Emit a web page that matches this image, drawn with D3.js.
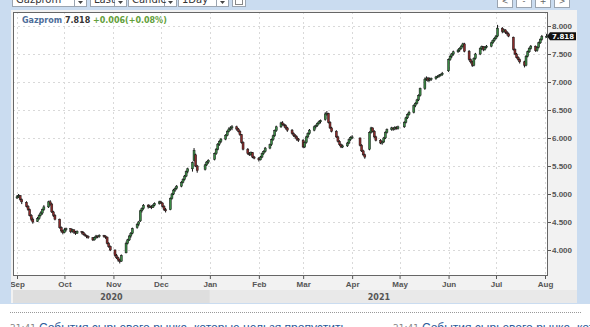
<!DOCTYPE html>
<html>
<head>
<meta charset="utf-8">
<style>
  body { margin: 0; background: #fff; overflow: hidden; }
  svg { display: block; font-family: "DejaVu Sans", sans-serif; }
  .grid line { stroke: #d9d9d9; stroke-dasharray: 2,3; }
  .axis text { fill: #555; font-size: 8px; font-weight: bold; }
  .axis line { stroke: #555; }
  .axis path { display: none; }
</style>
</head>
<body>
<svg id="chart" width="590" height="327"></svg>
<script src="https://d3js.org/d3.v7.min.js"></script>
<script>
const symbol = "Gazprom"
const menus = ["Gazprom", "Last", "Candle", "1Day"]
const navButtons = ["<", "-", "+", ">"]
const yTicks = [4.0, 4.5, 5.0, 5.5, 6.0, 6.5, 7.0, 7.5, 8.0]
const years = ["2020", "2021"]
const newsTime = "21:41"
const headline = "События сырьевого рынка, которые нельзя пропустить"

// date (yymmdd), open, high, low, close
const candles = [
  ["200901",4.93,4.98,4.91,4.95],["200902",4.95,5.00,4.93,4.97],["200903",4.97,4.98,4.88,4.90],["200904",4.90,4.92,4.82,4.86],
  ["200907",4.85,4.87,4.76,4.78],["200908",4.78,4.80,4.70,4.72],["200909",4.72,4.74,4.60,4.62],["200910",4.62,4.64,4.52,4.55],["200911",4.55,4.58,4.47,4.50],
  ["200914",4.51,4.59,4.50,4.56],["200915",4.56,4.64,4.54,4.62],["200916",4.62,4.69,4.60,4.66],["200917",4.66,4.74,4.63,4.72],["200918",4.72,4.80,4.70,4.77],
  ["200921",4.77,4.88,4.75,4.86],["200922",4.86,4.89,4.79,4.82],["200923",4.82,4.84,4.66,4.68],["200924",4.68,4.70,4.59,4.62],["200925",4.62,4.64,4.53,4.55],
  ["200928",4.55,4.56,4.38,4.40],["200929",4.40,4.42,4.31,4.34],["200930",4.34,4.36,4.28,4.31],["201001",4.31,4.39,4.30,4.36],["201002",4.36,4.40,4.33,4.38],
  ["201005",4.38,4.39,4.30,4.33],["201006",4.33,4.38,4.31,4.36],["201007",4.36,4.37,4.29,4.32],["201008",4.32,4.34,4.27,4.30],["201009",4.30,4.35,4.29,4.33],
  ["201012",4.33,4.34,4.28,4.31],["201013",4.31,4.33,4.26,4.28],["201014",4.28,4.30,4.24,4.26],["201015",4.26,4.27,4.21,4.24],["201016",4.24,4.26,4.20,4.22],
  ["201019",4.22,4.23,4.16,4.18],["201020",4.18,4.24,4.17,4.22],["201021",4.22,4.27,4.20,4.25],["201022",4.25,4.26,4.21,4.24],["201023",4.24,4.28,4.22,4.26],
  ["201026",4.26,4.27,4.22,4.25],["201027",4.25,4.26,4.20,4.23],["201028",4.23,4.24,4.10,4.12],["201029",4.12,4.14,4.04,4.06],["201030",4.06,4.08,3.98,4.00],
  ["201102",4.00,4.01,3.88,3.90],["201103",3.90,3.93,3.84,3.86],["201104",3.86,3.88,3.79,3.82],["201105",3.82,3.84,3.76,3.80],["201106",3.80,3.92,3.79,3.90],
  ["201109",3.95,4.15,3.94,4.12],["201110",4.12,4.20,4.10,4.18],["201111",4.18,4.27,4.16,4.25],["201112",4.25,4.32,4.22,4.30],["201113",4.30,4.40,4.28,4.38],
  ["201116",4.40,4.48,4.38,4.46],["201117",4.46,4.52,4.43,4.50],["201118",4.52,4.72,4.50,4.70],["201119",4.70,4.76,4.67,4.74],["201120",4.74,4.82,4.72,4.80],
  ["201123",4.80,4.82,4.74,4.77],["201124",4.77,4.81,4.75,4.78],["201125",4.78,4.80,4.73,4.76],["201126",4.76,4.82,4.75,4.80],["201127",4.80,4.85,4.78,4.83],
  ["201130",4.83,4.88,4.81,4.86],["201201",4.86,4.88,4.82,4.84],["201202",4.84,4.85,4.76,4.78],["201203",4.78,4.80,4.70,4.72],["201204",4.72,4.75,4.67,4.70],
  ["201207",4.72,4.94,4.71,4.92],["201208",4.92,5.02,4.90,5.00],["201209",5.00,5.09,4.98,5.07],["201210",5.07,5.12,5.04,5.10],["201211",5.10,5.16,5.08,5.14],
  ["201214",5.14,5.23,5.12,5.21],["201215",5.21,5.28,5.19,5.26],["201216",5.26,5.34,5.24,5.32],["201217",5.32,5.42,5.30,5.40],["201218",5.40,5.47,5.37,5.45],
  ["201221",5.45,5.58,5.40,5.56],["201222",5.60,5.82,5.58,5.78],["201223",5.70,5.72,5.48,5.50],["201224",5.50,5.52,5.38,5.42],
  ["201229",5.44,5.54,5.42,5.52],["201230",5.52,5.59,5.50,5.57],["201231",5.57,5.62,5.54,5.60],
  ["210104",5.62,5.74,5.60,5.72],["210105",5.72,5.82,5.70,5.80],["210106",5.80,5.91,5.78,5.89],["210107",5.89,5.96,5.86,5.94],["210108",5.94,6.00,5.91,5.98],
  ["210111",5.98,6.07,5.96,6.05],["210112",6.05,6.14,6.03,6.12],["210113",6.12,6.19,6.10,6.16],["210114",6.16,6.21,6.13,6.18],["210115",6.18,6.23,6.14,6.20],
  ["210118",6.20,6.22,6.13,6.16],["210119",6.16,6.18,6.10,6.12],["210120",6.12,6.14,6.04,6.06],["210121",6.06,6.07,5.90,5.92],["210122",5.92,5.94,5.78,5.80],
  ["210125",5.80,5.82,5.70,5.72],["210126",5.72,5.75,5.68,5.70],["210127",5.70,5.76,5.68,5.74],["210128",5.74,5.75,5.64,5.66],["210129",5.66,5.68,5.62,5.64],
  ["210201",5.64,5.66,5.58,5.61],["210202",5.61,5.68,5.60,5.66],["210203",5.66,5.74,5.64,5.72],["210204",5.72,5.78,5.70,5.76],["210205",5.76,5.84,5.74,5.82],
  ["210208",5.82,5.90,5.80,5.88],["210209",5.88,5.99,5.86,5.97],["210210",5.97,6.06,5.95,6.04],["210211",6.04,6.15,6.02,6.13],["210212",6.13,6.22,6.11,6.20],
  ["210215",6.20,6.29,6.18,6.27],["210216",6.27,6.30,6.22,6.24],["210217",6.24,6.26,6.19,6.22],["210218",6.22,6.24,6.15,6.18],["210219",6.18,6.20,6.11,6.14],
  ["210222",6.14,6.16,6.06,6.08],["210223",6.08,6.10,6.02,6.05],["210224",6.05,6.07,5.99,6.02],["210225",6.02,6.04,5.95,5.98],["210226",5.98,6.00,5.93,5.96],
  ["210301",5.96,5.98,5.82,5.84],["210302",5.84,5.94,5.82,5.92],["210303",5.92,6.04,5.90,6.02],["210304",6.02,6.10,6.00,6.08],["210305",6.08,6.16,6.06,6.14],
  ["210308",6.14,6.22,6.12,6.20],["210309",6.20,6.24,6.17,6.22],["210310",6.22,6.28,6.20,6.26],["210311",6.26,6.31,6.24,6.29],["210312",6.29,6.33,6.26,6.31],
  ["210315",6.33,6.46,6.31,6.43],["210316",6.43,6.48,6.40,6.44],["210317",6.44,6.45,6.26,6.28],["210318",6.28,6.30,6.16,6.18],["210319",6.18,6.20,6.10,6.12],
  ["210322",6.12,6.14,6.00,6.02],["210323",6.02,6.04,5.92,5.94],["210324",5.94,5.96,5.86,5.88],["210325",5.88,5.90,5.82,5.84],["210326",5.84,5.88,5.82,5.86],
  ["210329",5.86,5.93,5.84,5.91],["210330",5.91,5.99,5.89,5.97],["210331",5.97,6.03,5.95,6.01],["210401",6.01,6.05,5.98,6.02],
  ["210406",6.00,6.01,5.85,5.87],["210407",5.87,5.89,5.75,5.77],["210408",5.77,5.79,5.68,5.70],["210409",5.70,5.72,5.63,5.66],
  ["210412",5.80,6.12,5.78,6.10],["210413",6.10,6.20,6.08,6.18],["210414",6.18,6.19,6.10,6.12],["210415",6.12,6.14,6.00,6.02],["210416",6.02,6.04,5.94,5.96],
  ["210419",5.96,5.98,5.89,5.91],["210420",5.91,5.95,5.88,5.93],["210421",5.93,6.02,5.91,6.00],["210422",6.00,6.12,5.98,6.10],["210423",6.10,6.17,6.08,6.15],
  ["210426",6.15,6.20,6.13,6.18],["210427",6.18,6.19,6.13,6.16],["210428",6.16,6.21,6.14,6.19],["210429",6.19,6.21,6.15,6.17],["210430",6.17,6.22,6.15,6.20],
  ["210504",6.20,6.30,6.18,6.28],["210505",6.28,6.38,6.26,6.36],["210506",6.36,6.44,6.34,6.42],["210507",6.42,6.48,6.40,6.46],
  ["210510",6.46,6.60,6.44,6.58],["210511",6.58,6.64,6.55,6.62],["210512",6.62,6.70,6.60,6.68],["210513",6.68,6.78,6.66,6.76],["210514",6.76,6.90,6.74,6.88],
  ["210517",6.88,7.08,6.86,7.05],["210518",7.05,7.10,7.02,7.07],["210519",7.07,7.09,7.00,7.03],["210520",7.03,7.08,7.01,7.05],["210521",7.05,7.08,7.02,7.06],
  ["210524",7.06,7.11,7.04,7.09],["210525",7.09,7.12,7.07,7.10],["210526",7.10,7.14,7.08,7.12],["210527",7.12,7.15,7.10,7.13],["210528",7.13,7.18,7.11,7.15],
  ["210601",7.20,7.42,7.18,7.40],["210602",7.40,7.48,7.38,7.46],["210603",7.46,7.52,7.43,7.50],["210604",7.50,7.56,7.47,7.54],
  ["210607",7.54,7.59,7.52,7.57],["210608",7.57,7.62,7.54,7.60],["210609",7.60,7.66,7.58,7.64],["210610",7.64,7.70,7.62,7.68],["210611",7.68,7.70,7.53,7.55],
  ["210614",7.55,7.57,7.38,7.40],["210615",7.40,7.42,7.33,7.36],["210616",7.36,7.38,7.27,7.30],["210617",7.30,7.44,7.28,7.42],["210618",7.42,7.52,7.40,7.50],
  ["210621",7.50,7.62,7.48,7.60],["210622",7.60,7.65,7.57,7.63],["210623",7.63,7.64,7.55,7.58],["210624",7.58,7.64,7.56,7.62],["210625",7.62,7.66,7.60,7.64],
  ["210628",7.64,7.72,7.62,7.70],["210629",7.70,7.76,7.68,7.74],["210630",7.74,7.80,7.72,7.78],["210701",7.78,7.84,7.76,7.82],["210702",7.82,8.02,7.80,7.96],
  ["210705",7.96,7.98,7.87,7.90],["210706",7.90,7.95,7.88,7.93],["210707",7.93,7.94,7.86,7.89],["210708",7.89,7.91,7.83,7.86],["210709",7.86,7.88,7.80,7.82],
  ["210712",7.80,7.81,7.56,7.58],["210713",7.58,7.60,7.48,7.50],["210714",7.50,7.52,7.42,7.44],["210715",7.44,7.46,7.38,7.40],["210716",7.40,7.42,7.33,7.36],
  ["210719",7.36,7.38,7.26,7.30],["210720",7.30,7.48,7.28,7.46],["210721",7.46,7.56,7.44,7.54],["210722",7.54,7.62,7.52,7.60],["210723",7.60,7.66,7.58,7.64],
  ["210726",7.64,7.65,7.54,7.56],["210727",7.56,7.64,7.54,7.62],["210728",7.62,7.72,7.60,7.70],["210729",7.70,7.78,7.68,7.76],["210730",7.76,7.84,7.74,7.812],
  ["210802",7.812,7.86,7.79,7.818]
]

const parse = d3.timeParse("%y%m%d")
const data = candles.map(d => ({ date: parse(d[0]), open: d[1], high: d[2], low: d[3], close: d[4] }))

const W = 590
const plotL = 13, plotR = 548, plotT = 12, plotB = 276
const svg = d3.select("#chart")

// page background pieces
svg.append("rect").attr("width", W).attr("height", 304).attr("fill", "#cadcf0")
svg.append("rect").attr("x", 10).attr("y", 10).attr("width", 567).attr("height", 293).attr("fill", "#f2f2f2")
svg.append("rect").attr("x", plotL).attr("y", plotT).attr("width", plotR - plotL).attr("height", plotB - plotT).attr("fill", "#fff")

// toolbar (cut off at the top edge, as in the screenshot)
const menuBoxes = [[12, 74], [90, 36], [128, 48], [178, 50]]
menus.forEach((m, i) => {
  const [bx, bw] = menuBoxes[i]
  const g = svg.append("g")
  g.append("rect").attr("x", bx + 0.5).attr("y", -3.5).attr("width", bw).attr("height", 10)
    .attr("fill", "#fff").attr("stroke", "#9aa4b0")
  g.append("line").attr("x1", bx + bw - 11.5).attr("x2", bx + bw - 11.5).attr("y1", -3).attr("y2", 6.5).attr("stroke", "#9aa4b0")
  g.append("text").attr("x", bx + 4).attr("y", 3).attr("font-size", 10).attr("fill", "#333").text(m)
  g.append("path").attr("d", `M${bx + bw - 8},1 h5 l-2.5,3 z`).attr("fill", "#444")
})
svg.append("rect").attr("x", 232.5).attr("y", -3.5).attr("width", 13).attr("height", 10).attr("fill", "#fff").attr("stroke", "#9aa4b0")
svg.append("rect").attr("x", 235.5).attr("y", -1.5).attr("width", 7).attr("height", 6).attr("fill", "none").attr("stroke", "#888")

const navX = [497, 516, 535, 554]
navButtons.forEach((b, i) => {
  svg.append("rect").attr("x", navX[i] + 0.5).attr("y", -3.5).attr("width", 15).attr("height", 11)
    .attr("fill", "#fff").attr("stroke", "#9aa4b0")
  svg.append("text").attr("x", navX[i] + 8).attr("y", 4).attr("text-anchor", "middle")
    .attr("font-size", 8).attr("fill", "#666").text(b)
})

// scales
const x = d3.scaleTime()
  .domain([new Date(2020, 8, 1), new Date(2021, 7, 1)])
  .range([17, 545])
const y = d3.scaleLinear()
  .domain([8 - (plotB - 26) / 56, 8 + (26 - plotT) / 56])
  .range([plotB, plotT])

const months = x.ticks(d3.timeMonth.every(1)).filter(d => x(d) <= plotR)

// grid
const grid = svg.append("g").attr("class", "grid")
grid.selectAll(".gy").data(yTicks).join("line")
  .attr("x1", plotL).attr("x2", plotR)
  .attr("y1", d => Math.round(y(d)) + 0.5).attr("y2", d => Math.round(y(d)) + 0.5)
grid.selectAll(".gx").data(months).join("line")
  .attr("x1", d => Math.round(x(d)) + 0.5).attr("x2", d => Math.round(x(d)) + 0.5)
  .attr("y1", plotT).attr("y2", plotB)

// title
const last = data[data.length - 1], prev = data[data.length - 2]
const chg = last.close - prev.close
const title = svg.append("text").attr("x", 22).attr("y", 23).attr("font-size", 8).attr("font-weight", "bold")
title.append("tspan").attr("fill", "#4d6d9a").text(symbol + " ")
title.append("tspan").attr("fill", "#333").text(d3.format(".3f")(last.close) + " ")
title.append("tspan").attr("fill", "#62a03a")
  .text(d3.format("+.3f")(chg) + "(" + d3.format("+.2f")(chg / prev.close * 100) + "%)")

// candles
svg.append("clipPath").attr("id", "plotClip").append("rect")
  .attr("x", plotL).attr("y", plotT).attr("width", plotR - plotL).attr("height", plotB - plotT)
const cg = svg.append("g").attr("clip-path", "url(#plotClip)")
const c = cg.selectAll("g.candle").data(data).join("g").attr("class", "candle")
c.append("line")
  .attr("x1", d => x(d.date)).attr("x2", d => x(d.date))
  .attr("y1", d => y(d.high)).attr("y2", d => y(d.low))
  .attr("stroke", "#111").attr("stroke-width", 1)
c.append("rect")
  .attr("x", d => x(d.date) - 1)
  .attr("width", 2)
  .attr("y", d => y(Math.max(d.open, d.close)))
  .attr("height", d => Math.max(1, Math.abs(y(d.open) - y(d.close))))
  .attr("fill", d => d.close >= d.open ? "#3a8a44" : "#8a2a2a")
  .attr("stroke", "#1a1a1a").attr("stroke-width", 0.5)

// plot border
svg.append("rect").attr("x", plotL + 0.5).attr("y", plotT + 0.5).attr("width", plotR - plotL - 1).attr("height", plotB - plotT - 1)
  .attr("fill", "none").attr("stroke", "#666")

// axes
svg.append("g").attr("class", "axis")
  .attr("transform", `translate(0,${plotB})`)
  .call(d3.axisBottom(x).tickValues(months).tickFormat(d3.timeFormat("%b")).tickSize(3).tickPadding(2))
svg.append("g").attr("class", "axis")
  .attr("transform", `translate(${plotR},0)`)
  .call(d3.axisRight(y).tickValues(yTicks).tickFormat(d3.format(".3f")).tickSize(3).tickPadding(1))

// year band
const jan = x(new Date(2021, 0, 1))
svg.append("rect").attr("x", plotL).attr("y", 290).attr("width", jan - plotL).attr("height", 13).attr("fill", "#dedede")
svg.append("rect").attr("x", jan).attr("y", 290).attr("width", 577 - jan).attr("height", 13).attr("fill", "#e9e9e9")
svg.selectAll(".year").data(years).join("text")
  .attr("x", (d, i) => i === 0 ? (plotL + jan) / 2 : (jan + plotR) / 2)
  .attr("y", 300).attr("text-anchor", "middle")
  .attr("font-size", 8).attr("font-weight", "bold").attr("fill", "#555").text(d => d)

// left and right edge strips over clipped labels
svg.append("rect").attr("x", 0).attr("y", 0).attr("width", 11).attr("height", 304).attr("fill", "#cadcf0")
svg.append("rect").attr("x", 577).attr("y", 0).attr("width", 13).attr("height", 304).attr("fill", "#cadcf0")

// last price tag
const ly = y(last.close)
svg.append("path").attr("d", `M547,${ly} l3,-4 h26 v8 h-26 z`).attr("fill", "#111")
svg.append("text").attr("x", 563).attr("y", ly + 2.8).attr("text-anchor", "middle")
  .attr("font-size", 7).attr("font-weight", "bold").attr("fill", "#fff").text(d3.format(".3f")(last.close))

// news strip (cut off at the bottom edge, as in the screenshot)
svg.append("line").attr("x1", 10).attr("x2", 582).attr("y1", 312.5).attr("y2", 312.5)
  .attr("stroke", "#999").attr("stroke-dasharray", "1,1")
;[10, 393].forEach(nx => {
  svg.append("text").attr("x", nx).attr("y", 331).attr("font-size", 9).attr("fill", "#888").text(newsTime)
  svg.append("text").attr("x", nx + 29).attr("y", 332).attr("font-size", 12)
    .attr("font-family", "Liberation Sans, Arial, sans-serif").attr("fill", "#2b5b9b").text(headline)
})
</script>
</body>
</html>
